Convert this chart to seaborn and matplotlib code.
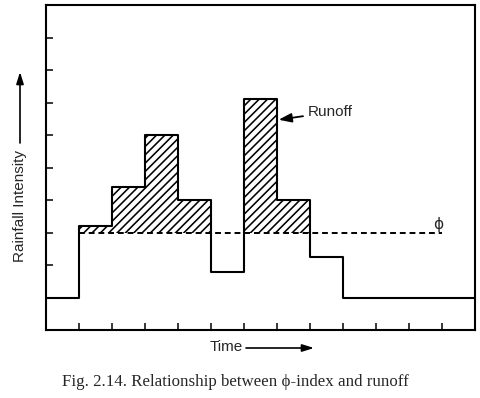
import numpy as np
import pandas as pd
import matplotlib
matplotlib.use("Agg")
import matplotlib.pyplot as plt
import seaborn as sns

# ---- data ----
times = [0, 1, 2, 3, 4, 5, 6, 7, 8, 9, 10, 11, 12, 13]
intensity = [1.0, 3.2, 4.4, 6.0, 4.0, 1.8, 7.1, 4.0, 2.25, 1.0, 1.0, 1.0, 1.0, 1.0]
phi_index = 3.0
phi_span = [1, 12]
x_ticks = [1, 2, 3, 4, 5, 6, 7, 8, 9, 10, 11, 12]
y_ticks = [1, 2, 3, 4, 5, 6, 7, 8, 9]
ylabel = "Rainfall Intensity"
xlabel = "Time"
runoff_label = "Runoff"
phi_label = "\u03d5"
caption = "Fig. 2.14. Relationship between \u03d5-index and runoff"

sns.set_style("white")
plt.rcParams["font.family"] = ["Liberation Sans", "DejaVu Sans"]
plt.rcParams["hatch.linewidth"] = 1.15

df = pd.DataFrame({"time": times, "intensity": intensity})

fig = plt.figure(figsize=(4.8, 3.98), dpi=100)
ax = fig.add_axes([46 / 480, 1 - 330 / 398, (475 - 46) / 480, (330 - 5) / 398])

# hatched runoff (excess above phi)
excess = [max(v - phi_index, 0.0) for v in intensity[:-1]]
ax.bar(times[:-1], excess, bottom=phi_index, width=1.0, align="edge",
       fill=False, hatch="////", edgecolor="black", linewidth=0)

# hyetograph
sns.lineplot(data=df, x="time", y="intensity", drawstyle="steps-post",
             color="black", linewidth=1.5, ax=ax, estimator=None, sort=False)

# phi line
ax.plot(phi_span, [phi_index, phi_index], color="black", linewidth=1.4,
        dashes=(3, 2))
ax.text(11.88, 3.25, phi_label, ha="center", va="center", fontsize=11,
        family=["DejaVu Sans"])

ax.annotate(runoff_label, xy=(7.05, 6.47), xytext=(7.93, 6.7),
            ha="left", va="center", fontsize=11,
            arrowprops=dict(arrowstyle="-|>,head_length=0.7,head_width=0.25",
                            color="black", lw=1.3, shrinkA=1, shrinkB=0))

ax.set_xlim(0, 13)
ax.set_ylim(0, 10)
ax.set_xticks(x_ticks)
ax.set_yticks(y_ticks)
ax.set_xticklabels([])
ax.set_yticklabels([])
ax.tick_params(direction="in", length=5, width=1.1, colors="black",
               bottom=True, left=True)
ax.set_xlabel("")
ax.set_ylabel("")
for s in ax.spines.values():
    s.set_visible(True)
    s.set_color("black")
    s.set_linewidth(1.5)

# axis labels with arrows
fig.text(20 / 480, 1 - 206 / 398, ylabel, rotation=90, ha="center",
         va="center", fontsize=11)
ax.annotate("", xy=(20 / 480, 1 - 72 / 398), xytext=(20 / 480, 1 - 143 / 398),
            xycoords="figure fraction", textcoords="figure fraction",
            arrowprops=dict(arrowstyle="-|>,head_length=0.7,head_width=0.22",
                            color="black", lw=1.2, shrinkA=0, shrinkB=0))
fig.text(226 / 480, 1 - 347 / 398, xlabel, ha="center", va="center",
         fontsize=11)
ax.annotate("", xy=(314 / 480, 1 - 348 / 398), xytext=(246 / 480, 1 - 348 / 398),
            xycoords="figure fraction", textcoords="figure fraction",
            arrowprops=dict(arrowstyle="-|>,head_length=0.7,head_width=0.22",
                            color="black", lw=1.2, shrinkA=0, shrinkB=0))

fig.text(235 / 480, 1 - 382 / 398, caption, ha="center", va="center",
         fontsize=12.2, family=["Liberation Serif", "DejaVu Serif"])

fig.savefig("out.png", dpi=100)
